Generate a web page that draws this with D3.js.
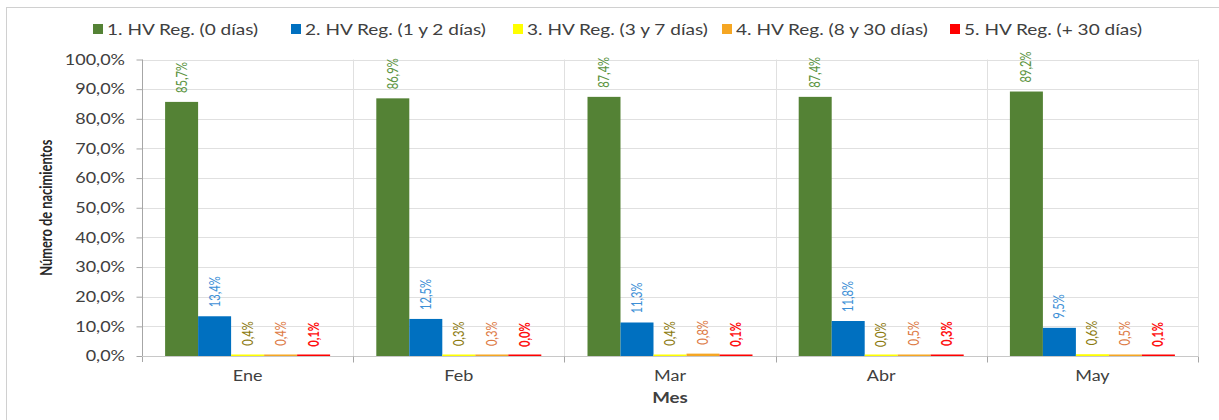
<!DOCTYPE html>
<html>
<head>
<meta charset="utf-8">
<script src="https://cdn.jsdelivr.net/npm/d3@7"></script>
<style>
 body{margin:0;background:#fff;}
 svg{display:block;font-family:"Lato","Open Sans",sans-serif;}
</style>
</head>
<body>
<svg id="chart" width="1219" height="420"></svg>
<script>
var months=["Ene","Feb","Mar","Abr","May"];
var seriesNames=["1. HV Reg. (0 días)","2. HV Reg. (1 y 2 días)","3. HV Reg. (3 y 7 días)","4. HV Reg. (8 y 30 días)","5. HV Reg. (+ 30 días)"];
var reg0=[85.7,86.9,87.4,87.4,89.2];
var reg1a2=[13.4,12.5,11.3,11.8,9.5];
var reg3a7=[0.4,0.3,0.4,0.0,0.6];
var reg8a30=[0.4,0.3,0.8,0.5,0.5];
var reg30=[0.1,0.0,0.1,0.3,0.1];
var yTicks=[0,10,20,30,40,50,60,70,80,90,100];

var barColors=["#548235","#0070C0","#FFFF00","#F5A623","#FF0000"];
var labelColors=["#5B9341","#3D8FD6","#8C7A10","#DD7A45","#FF1010"];
var series=[reg0,reg1a2,reg3a7,reg8a30,reg30];

var svg=d3.select("#chart");
var fmt=function(v){return v.toFixed(1).replace(".",",")+"%";};
var SX=1.2; // el original está algo estirado en horizontal

// marco del gráfico
svg.append("rect").attr("x",6.5).attr("y",7.5).attr("width",1230).attr("height",430)
 .attr("fill","none").attr("stroke","#d0d0d0");

var pLeft=142,pRight=1198,pTop=59.5,pBottom=356;
var x=d3.scaleBand().domain(months).range([pLeft,pRight]);
var xs=d3.scaleBand().domain(d3.range(5)).range([0,x.bandwidth()]).paddingOuter(0.7).paddingInner(0);
var y=d3.scaleLinear().domain([0,100]).range([pBottom,pTop]);

// rejilla
svg.append("g").selectAll("line").data(yTicks.slice(1)).join("line")
 .attr("x1",pLeft).attr("x2",pRight)
 .attr("y1",function(d){return Math.round(y(d))+0.5;}).attr("y2",function(d){return Math.round(y(d))+0.5;})
 .attr("stroke","#e0e0e0");
svg.append("g").selectAll("line").data(months).join("line")
 .attr("x1",function(d){return Math.round(x(d)+x.step())+0.5;})
 .attr("x2",function(d){return Math.round(x(d)+x.step())+0.5;})
 .attr("y1",pTop).attr("y2",pBottom)
 .attr("stroke","#e0e0e0");

// eje Y
var yAxis=d3.axisLeft(y).tickValues(yTicks).tickSize(6).tickFormat(fmt);
var gy=svg.append("g").attr("transform","translate("+(pLeft+0.5)+",0)").call(yAxis);
gy.select(".domain").attr("stroke","#a6a6a6").attr("d","M0,"+pTop+"V"+(pBottom+6));
gy.selectAll(".tick line").attr("stroke","#a6a6a6");
gy.selectAll(".tick text").attr("x",0).attr("transform","translate(-17.5,0) scale("+SX+",1)")
 .attr("fill","#404040").attr("font-size","15px").attr("font-family","Lato,sans-serif");

// eje X
var xAxis=d3.axisBottom(x).tickSize(0).tickPadding(14);
var gx=svg.append("g").attr("transform","translate(0,"+(pBottom+0.5)+")").call(xAxis);
gx.select(".domain").attr("stroke","#c8c8c8").attr("d","M"+pLeft+",0H"+pRight);
gx.selectAll(".tick text").attr("transform","scale("+SX+",1)")
 .attr("fill","#404040").attr("font-size","15px").attr("font-family","Lato,sans-serif");
gx.append("g").selectAll("line").data(months).join("line")
 .attr("x1",function(d){return Math.round(x(d)+x.step())+0.5;})
 .attr("x2",function(d){return Math.round(x(d)+x.step())+0.5;})
 .attr("y1",0).attr("y2",6).attr("stroke","#a6a6a6");

// barras y etiquetas
series.forEach(function(vals,s){
 var g=svg.append("g");
 g.selectAll("rect").data(vals).join("rect")
  .attr("x",function(d,i){return x(months[i])+xs(s);})
  .attr("width",xs.bandwidth())
  .attr("y",function(d){return Math.min(y(d),pBottom-1.5);})
  .attr("height",function(d){return Math.max(pBottom-y(d),1.5);})
  .attr("fill",barColors[s]);
 g.selectAll("text").data(vals).join("text")
  .attr("transform",function(d,i){
    var cx=x(months[i])+xs(s)+xs.bandwidth()/2+5;
    return "translate("+cx+","+(y(d)-9)+") rotate(-90) scale(0.86,1.12)";})
  .attr("fill",labelColors[s])
  .attr("font-size","13px")
  .attr("font-weight",s===4?"bold":"normal")
  .text(function(d){return fmt(d);});
});

// títulos de ejes
svg.append("text").attr("transform","translate(52,"+((pTop+pBottom)/2)+") rotate(-90) scale(0.92,1.2)")
 .attr("text-anchor","middle").attr("font-weight","bold").attr("font-size","14px")
 .attr("fill","#262626").text("Número de nacimientos");
svg.append("text").attr("transform","translate("+((pLeft+pRight)/2)+",403) scale(1.25,1)")
 .attr("text-anchor","middle").attr("font-weight","bold").attr("font-size","15px")
 .attr("fill","#404040").text("Mes");

// leyenda
var legend=svg.append("g").attr("font-size","16px");
var itemX=[93,291,513,722,950];
var items=legend.selectAll("g").data(seriesNames).join("g")
 .attr("transform",function(d,i){return "translate("+itemX[i]+",29)";});
items.append("rect").attr("x",0).attr("y",-5).attr("width",10).attr("height",10)
 .attr("fill",function(d,i){return barColors[i];});
items.append("text").attr("transform","translate(14,5.5) scale(1.19,1)")
 .attr("fill","#404040").text(function(d){return d;});
</script>
</body>
</html>
